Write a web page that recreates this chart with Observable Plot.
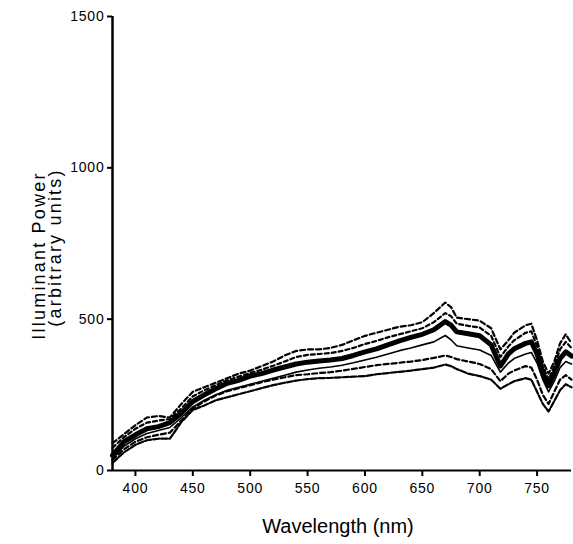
<!DOCTYPE html>
<html>
<head>
<meta charset="utf-8">
<script src="https://cdn.jsdelivr.net/npm/d3@7"></script>
<script src="https://cdn.jsdelivr.net/npm/@observablehq/plot@0.6"></script>
<style>
  body { margin: 0; background: #fff; }
  svg { display: block; }
  g[aria-label="x-axis tick label"] text, g[aria-label="y-axis tick label"] text { letter-spacing: 0.8px; }
  text[aria-label="ylabel"] { letter-spacing: 2.2px; }
</style>
</head>
<body>
<div id="chart"></div>
<script>
const wavelengths = [380,390,400,410,420,430,440,450,460,470,480,490,500,510,520,530,540,550,560,570,580,590,600,610,620,630,640,650,660,670,675,680,690,700,710,718,725,730,740,745,750,755,760,765,770,775,780];

const meanPower = [50,95,118,138,145,158,190,228,250,270,288,298,312,320,332,342,352,358,362,365,370,380,392,402,415,428,440,450,465,492,480,458,452,445,415,345,385,402,420,425,385,320,280,320,370,392,378];

const thinPower = [40,80,105,122,132,142,175,210,232,250,265,275,285,295,305,315,325,332,338,342,348,356,365,374,385,396,405,415,425,446,432,412,405,398,380,325,355,370,385,390,355,300,260,295,340,360,352];

const upperHigh = [90,120,150,175,180,175,220,260,275,290,305,320,330,345,360,380,395,400,400,405,415,430,445,455,465,475,480,490,520,555,540,505,500,495,470,400,430,455,480,485,430,360,320,360,420,450,420];

const upperLow = [75,110,138,158,165,170,205,245,265,282,298,310,322,333,346,360,375,382,385,388,395,405,418,428,440,450,460,470,490,520,510,485,478,472,445,375,410,430,455,460,410,345,300,345,400,425,405];

const lowerHigh = [35,70,95,110,118,125,165,205,228,248,262,272,282,292,300,308,315,318,322,325,330,336,342,348,352,356,360,365,372,380,375,368,360,352,335,295,320,330,345,340,300,250,220,260,300,315,300];

const lowerLow = [25,60,85,100,105,105,160,200,215,232,242,252,262,272,282,290,297,302,305,306,308,310,312,318,322,326,330,335,340,350,345,335,320,312,300,270,285,295,305,300,260,220,195,230,265,285,275];

const xTicks = [400,450,500,550,600,650,700,750];
const yTicks = [0,500,1000,1500];

const toRows = (vals) => wavelengths.map((w, i) => ({w, v: vals[i]}));

const font = "'Liberation Sans', Arial, Helvetica, sans-serif";

const chart = Plot.plot({
  width: 573,
  height: 544,
  marginLeft: 112,
  marginRight: 2,
  marginTop: 16,
  marginBottom: 74,
  style: {fontFamily: font, fontSize: "14px", color: "black", background: "white"},
  x: {domain: [380, 780]},
  y: {domain: [0, 1500]},
  marks: [
    Plot.line(toRows(upperHigh), {x: "w", y: "v", stroke: "black", strokeWidth: 2.2, strokeDasharray: "5,3"}),
    Plot.line(toRows(upperLow), {x: "w", y: "v", stroke: "black", strokeWidth: 2.2, strokeDasharray: "4,3"}),
    Plot.line(toRows(lowerHigh), {x: "w", y: "v", stroke: "black", strokeWidth: 2.2, strokeDasharray: "5,3"}),
    Plot.line(toRows(lowerLow), {x: "w", y: "v", stroke: "black", strokeWidth: 2.2, strokeDasharray: "6,2"}),
    Plot.line(toRows(thinPower), {x: "w", y: "v", stroke: "black", strokeWidth: 1.6}),
    Plot.line(toRows(meanPower), {x: "w", y: "v", stroke: "black", strokeWidth: 5}),
    Plot.axisX({ticks: xTicks, tickSize: 6, tickPadding: 7, fontSize: 14, strokeWidth: 2, label: null, tickFormat: d => String(d)}),
    Plot.axisY({ticks: yTicks, tickSize: 5, tickPadding: 3, fontSize: 14, strokeWidth: 2, label: null, tickFormat: d => String(d)}),
    Plot.ruleY([0], {stroke: "black", strokeWidth: 2}),
    Plot.ruleX([380], {stroke: "black", strokeWidth: 2.5}),
    Plot.text(["Wavelength (nm)"], {frameAnchor: "bottom", textAnchor: "middle", lineAnchor: "bottom", dy: 62, dx: -4, fontSize: 20, fill: "black"}),
    Plot.text(["Illuminant Power"], {frameAnchor: "left", textAnchor: "middle", lineAnchor: "bottom", rotate: -90, dx: -68, dy: 12, fontSize: 18, fill: "black", ariaLabel: () => "ylabel"}),
    Plot.text(["(arbitrary units)"], {frameAnchor: "left", textAnchor: "middle", lineAnchor: "bottom", rotate: -90, dx: -52, dy: 4, fontSize: 18, fill: "black", ariaLabel: () => "ylabel"})
  ]
});
document.getElementById("chart").appendChild(chart);
</script>
</body>
</html>
